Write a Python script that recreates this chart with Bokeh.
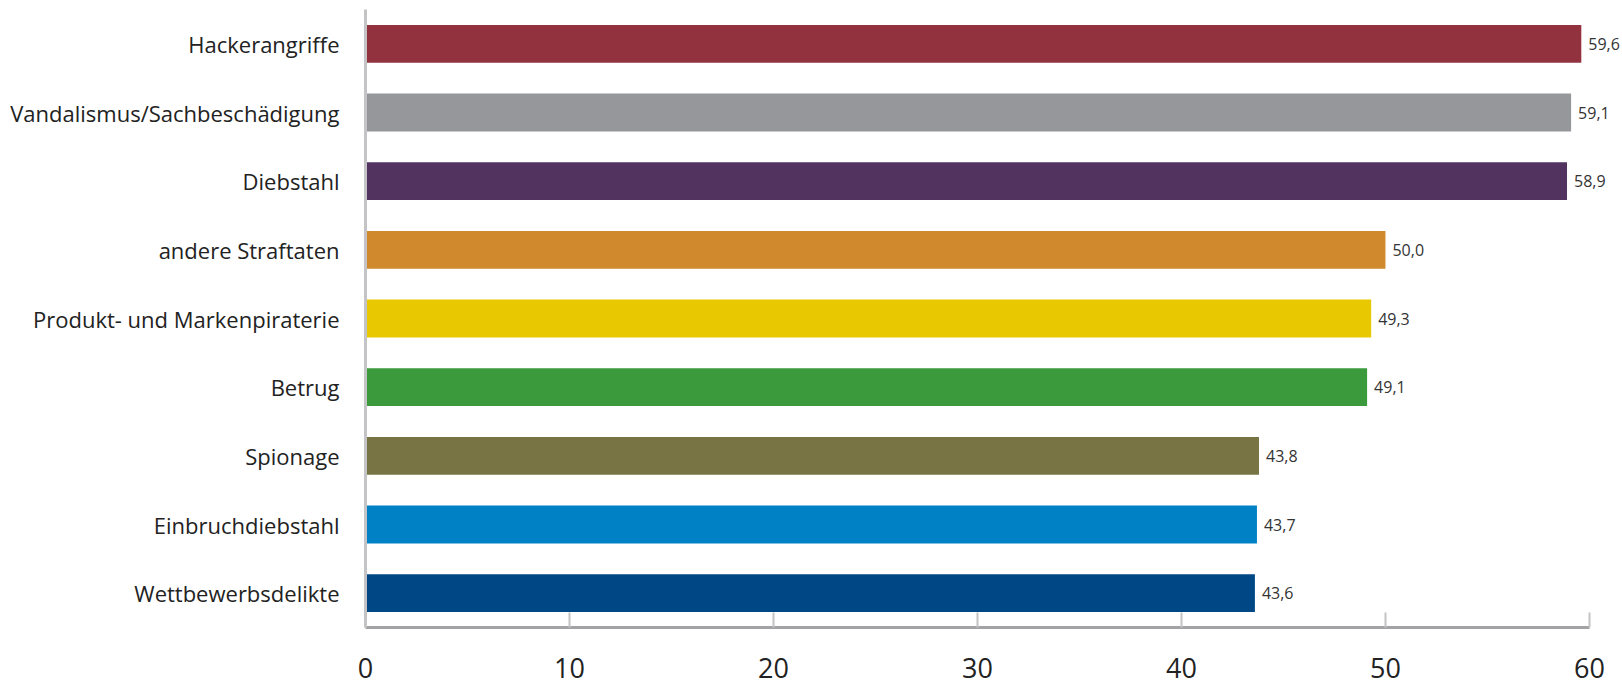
from bokeh.plotting import figure
from bokeh.models import ColumnDataSource, FactorRange, Range1d, FixedTicker, LabelSet
from bokeh.core.properties import value
from bokeh.embed import file_html
from bokeh.resources import INLINE

categories = ["Hackerangriffe", "Vandalismus/Sachbeschädigung", "Diebstahl", "andere Straftaten",
              "Produkt- und Markenpiraterie", "Betrug", "Spionage", "Einbruchdiebstahl", "Wettbewerbsdelikte"]
values = [59.6, 59.1, 58.9, 50.0, 49.3, 49.1, 43.8, 43.7, 43.6]
colors = ["#93323f", "#96979b", "#52335f", "#d0892c", "#e8c800", "#3a9a3c", "#797444", "#0080c5", "#004785"]
x_ticks = [0, 10, 20, 30, 40, 50, 60]

labels = [f"{v:.1f}".replace(".", ",") for v in values]
src = ColumnDataSource(dict(cat=categories, val=values, col=colors, lab=labels))

p = figure(width=1622, height=685, output_backend="svg", toolbar_location=None,
           y_range=FactorRange(factors=list(reversed(categories))),
           x_range=Range1d(0, 61.62),
           min_border_left=365, min_border_right=0, min_border_top=9, min_border_bottom=58)
p.outline_line_color = None
p.xgrid.grid_line_color = None
p.ygrid.grid_line_color = None

p.hbar(y="cat", right="val", left=0, height=0.55, fill_color="col", line_color=None, source=src)

lbl = LabelSet(x="val", y="cat", text="lab", source=src, x_offset=7, y_offset=0,
               text_font=value("Open Sans"), text_font_size="16px", text_color="#333333",
               text_baseline="middle", text_align="left")
p.add_layout(lbl)

xa = p.xaxis[0]
xa.ticker = FixedTicker(ticks=x_ticks)
xa.bounds = (0, 60)
xa.axis_line_color = "#a3a3a6"
xa.axis_line_width = 3
xa.major_tick_line_color = "#c4c4c6"
xa.major_tick_line_width = 2
xa.major_tick_in = 15
xa.major_tick_out = 0
xa.minor_tick_line_color = None
xa.major_label_standoff = 30
xa.major_label_text_font = "Open Sans"
xa.major_label_text_font_size = "27px"
xa.major_label_text_color = "#222222"

ya = p.yaxis[0]
ya.axis_line_color = "#c4c4c6"
ya.axis_line_width = 3
ya.major_tick_line_color = None
ya.minor_tick_line_color = None
ya.major_label_standoff = 20
ya.major_label_text_font = "Open Sans"
ya.major_label_text_font_size = "22px"
ya.major_label_text_color = "#222222"

open("out.html", "w").write(file_html(p, INLINE))
